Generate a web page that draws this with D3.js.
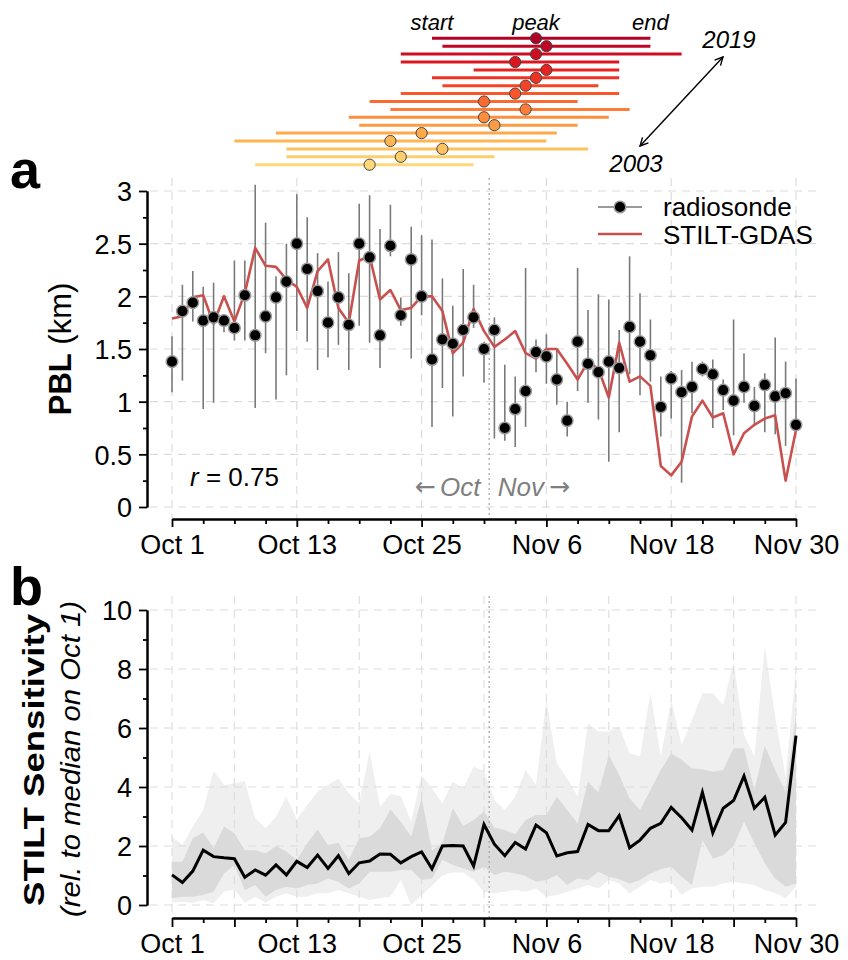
<!DOCTYPE html>
<html><head><meta charset="utf-8">
<script src="https://cdn.jsdelivr.net/npm/d3@7"></script>
<style>body{margin:0;background:#fff}svg{display:block}text{font-family:"Liberation Sans",Arial,Helvetica,sans-serif}</style>
</head><body>
<svg id="c" width="848" height="960"></svg>
<script>
// ---------- DATA ----------
const dayLabels = ["Oct 1","Oct 13","Oct 25","Nov 6","Nov 18","Nov 30"];
const dayLabelPos = [0,12,24,36,48,60];
const monthSplit = 30.5;
// panel a : radiosonde PBL (km), daily Oct 1 .. Nov 30
const radiosonde = [1.38,1.86,1.94,1.77,1.80,1.77,1.70,2.01,1.63,1.81,1.99,2.14,2.50,2.26,2.05,1.75,1.99,1.73,2.50,2.37,1.63,2.48,1.82,2.35,2.00,1.40,1.59,1.55,1.68,1.80,1.50,1.68,0.75,0.93,1.10,1.47,1.43,1.21,0.82,1.57,1.36,1.28,1.38,1.32,1.71,1.57,1.44,0.95,1.22,1.09,1.14,1.31,1.26,1.11,1.01,1.14,0.96,1.16,1.05,1.08,0.78];
const radiosondeLo = [1.09,1.20,1.76,0.93,0.99,1.66,1.58,1.58,0.94,1.46,1.02,1.25,1.67,1.57,1.30,1.42,1.54,1.30,1.72,1.56,1.32,2.38,1.72,1.41,1.82,0.76,1.13,0.86,1.24,1.70,1.18,0.65,0.63,0.57,0.76,1.28,1.17,0.97,0.67,1.10,0.99,0.83,0.43,0.71,1.26,1.06,1.19,0.67,0.84,0.23,0.89,1.24,0.75,0.92,0.68,0.99,0.78,0.71,0.69,0.58,0.78];
const radiosondeHi = [1.62,2.11,2.24,2.09,2.13,1.81,2.34,2.34,3.06,2.70,2.19,2.50,2.97,2.75,2.41,2.14,2.42,2.22,2.88,2.96,2.64,2.87,1.99,2.66,2.58,2.54,2.17,1.91,2.26,2.11,1.57,1.80,1.35,1.24,2.27,1.59,1.64,1.50,1.00,2.27,1.87,2.02,1.97,1.68,2.38,2.03,1.78,1.24,1.29,1.30,1.38,1.38,1.40,1.21,1.78,1.46,1.14,1.27,1.61,1.38,1.22];
const stiltGdas = [1.79,1.81,1.99,2.01,1.74,2.00,1.76,2.03,2.46,2.29,2.28,2.16,2.09,1.89,2.24,2.35,1.89,1.75,2.34,2.38,1.97,2.06,1.87,1.89,2.00,2.00,1.86,1.46,1.56,1.88,1.67,1.52,1.59,1.67,1.46,1.41,1.50,1.50,1.36,1.21,1.38,1.31,1.04,1.56,1.19,1.24,1.15,0.39,0.30,0.43,0.86,1.01,0.85,0.89,0.50,0.70,0.78,0.84,0.87,0.25,0.73];
// panel b : STILT sensitivity
const sensMedian = [1.02,0.76,1.15,1.86,1.64,1.60,1.57,0.94,1.19,1.01,1.36,1.02,1.48,1.27,1.69,1.24,1.67,1.07,1.43,1.49,1.73,1.72,1.43,1.64,1.80,1.23,2.00,2.02,2.00,1.32,2.73,2.06,1.67,2.12,1.90,2.71,2.45,1.66,1.77,1.81,2.73,2.52,2.52,3.03,1.94,2.20,2.60,2.77,3.31,2.96,2.54,3.82,2.45,3.28,3.54,4.37,3.28,3.65,2.37,2.80,5.74];
const sensInnerHi = [1.47,1.47,2.26,2.46,1.92,2.66,2.43,1.86,1.86,1.75,2.00,1.81,1.53,2.09,2.56,2.03,2.11,1.53,2.26,2.32,2.60,3.24,2.82,2.32,3.62,1.86,2.09,3.28,2.68,2.88,3.16,2.63,2.54,2.40,2.88,3.05,3.05,3.67,3.22,2.77,4.18,3.81,5.08,4.41,3.62,3.22,3.90,4.58,5.14,4.92,4.63,4.60,4.52,4.58,5.31,5.31,3.90,5.40,4.58,3.84,6.44];
const sensInnerLo = [0.23,0.28,0.28,0.34,0.45,1.07,1.36,0.51,0.68,0.28,0.51,0.62,0.56,0.68,0.73,0.90,0.79,0.56,0.73,1.13,1.13,1.13,1.19,1.19,0.85,0.90,1.53,1.36,1.24,1.13,1.30,1.02,1.13,1.07,0.98,0.79,0.85,1.02,0.68,0.90,0.85,1.13,0.96,0.87,0.73,0.85,1.07,1.21,1.30,0.96,0.68,2.20,1.58,1.69,2.00,2.82,2.09,1.41,0.90,0.62,0.73];
const sensOuterHi = [2.32,2.03,2.66,3.22,4.55,4.07,4.12,4.20,2.94,2.60,2.99,3.67,2.90,3.39,3.84,4.07,4.29,3.79,3.45,5.20,3.33,3.76,3.69,2.82,4.41,3.95,3.45,4.18,3.95,4.69,4.55,3.56,3.22,3.67,4.58,4.07,6.95,4.80,4.29,3.69,6.16,5.88,5.88,6.05,5.14,5.03,7.18,5.03,6.95,5.42,6.27,7.18,7.18,6.78,8.25,5.76,5.03,8.76,6.38,4.35,7.97];
const sensOuterLo = [0.08,0.11,0.08,0.17,0.06,0.45,0.53,0.08,0.28,0.08,0.28,0.40,0.28,0.28,0.40,0.40,0.51,0.40,0.28,0.17,0.23,0.28,0.85,0.00,0.34,0.65,1.00,1.10,1.10,0.85,0.45,0.40,0.45,0.51,0.45,0.56,0.28,0.34,0.45,0.56,0.68,0.56,0.85,0.73,0.40,0.62,0.85,0.73,0.79,0.34,0.56,0.62,0.62,0.73,0.79,0.73,0.68,0.51,0.40,0.23,0.62];
// inset : season start / peak / end (day index from Oct 1)
const seasonYears = [2003,2004,2005,2006,2007,2008,2009,2010,2011,2012,2013,2014,2015,2016,2017,2018,2019];
const seasonStart = [8,11,11,6,10,18,17,21,19,22,26,25,29,22,22,26,25];
const seasonPeak  = [19,22,26,21,24,31,30,34,30,33,34,35,36,33,35,36,35];
const seasonEnd   = [29,31,40,36,37,39,42,44,39,43,41,43,43,43,49,46,46];
const pblTicks = [0,0.5,1,1.5,2,2.5,3];
const sensTicks = [0,2,4,6,8,10];

// ---------- DRAW ----------
const svg = d3.select("#c");
const days = radiosonde.map((_, i) => i);
const x = d3.scaleLinear().domain([0, 60]).range([172, 796]);
const yA = d3.scaleLinear().domain([0, 3]).range([507, 191]);
const yB = d3.scaleLinear().domain([0, 10]).range([905, 610]);
const grid = "#dcdcdc";
const FS = 27;

// ---- inset ----
const yr = d3.scalePoint().domain(seasonYears.slice().reverse()).range([38.3, 164.7]);
const colT = y => d3.interpolateYlOrRd(0.24 + (y - 2003) / 16 * 0.66);
const inset = svg.append("g");
seasonYears.forEach((yv, i) => {
  inset.append("line").attr("x1", x(seasonStart[i])).attr("x2", x(seasonEnd[i]))
    .attr("y1", yr(yv)).attr("y2", yr(yv)).attr("stroke", colT(yv)).attr("stroke-width", 3);
});
seasonYears.forEach((yv, i) => {
  inset.append("circle").attr("cx", x(seasonPeak[i])).attr("cy", yr(yv)).attr("r", 5.6)
    .attr("fill", colT(yv)).attr("stroke", "#444").attr("stroke-width", 1);
});
const italic = (g, t, xx, yy, fs, anchor) => g.append("text").text(t).attr("x", xx).attr("y", yy)
  .attr("font-size", fs).attr("font-style", "italic").attr("text-anchor", anchor || "middle");
italic(inset, "start", x(seasonStart[16]), 30, 22);
italic(inset, "peak", x(seasonPeak[16]), 30, 22);
italic(inset, "end", x(seasonEnd[16]), 30, 22);
italic(inset, "2019", 729, 48, 24);
italic(inset, "2003", 636, 172, 24);
const defs = svg.append("defs");
defs.append("marker").attr("id", "ah").attr("viewBox", "0 0 10 10").attr("refX", 9).attr("refY", 5)
  .attr("markerWidth", 10).attr("markerHeight", 10).attr("orient", "auto-start-reverse")
  .attr("markerUnits", "userSpaceOnUse")
  .append("path").attr("d", "M1,1 L9,5 L1,9").attr("fill", "none").attr("stroke", "#000").attr("stroke-width", 1.4);
inset.append("line").attr("x1", 640).attr("y1", 146).attr("x2", 723).attr("y2", 57)
  .attr("stroke", "#000").attr("stroke-width", 1.4)
  .attr("marker-start", "url(#ah)").attr("marker-end", "url(#ah)");

// ---- panel a ----
const A = svg.append("g");
pblTicks.forEach(t => A.append("line").attr("x1", 150).attr("x2", 820).attr("y1", yA(t)).attr("y2", yA(t))
  .attr("stroke", grid).attr("stroke-dasharray", "8,6").attr("stroke-width", 1.2));
dayLabelPos.forEach(t => A.append("line").attr("x1", x(t)).attr("x2", x(t)).attr("y1", 178).attr("y2", 519)
  .attr("stroke", grid).attr("stroke-dasharray", "8,6").attr("stroke-width", 1.2));
A.append("line").attr("x1", x(monthSplit)).attr("x2", x(monthSplit)).attr("y1", 178).attr("y2", 519)
  .attr("stroke", "#aaa").attr("stroke-dasharray", "2,3").attr("stroke-width", 1.3);
// error bars
A.selectAll("line.eb").data(days).join("line").attr("class", "eb")
  .attr("x1", d => x(d)).attr("x2", d => x(d)).attr("y1", d => yA(radiosondeLo[d])).attr("y2", d => yA(radiosondeHi[d]))
  .attr("stroke", "#7a7a7a").attr("stroke-width", 1.6);
A.append("path").datum(days).attr("fill", "none").attr("stroke", "#c8504f").attr("stroke-width", 2.6)
  .attr("stroke-linejoin", "round")
  .attr("d", d3.line().x(d => x(d)).y(d => yA(stiltGdas[d])));
A.selectAll("circle.pt").data(days).join("circle").attr("class", "pt")
  .attr("cx", d => x(d)).attr("cy", d => yA(radiosonde[d])).attr("r", 5.8)
  .attr("fill", "#000").attr("stroke", "#9a9a9a").attr("stroke-width", 1.5);
// axes
A.append("g").attr("class", "yax").attr("transform", "translate(147,0)")
  .call(d3.axisLeft(yA).tickValues(pblTicks).tickSize(8).tickSizeOuter(0).tickFormat(d3.format("~g")));
A.append("g").attr("transform", "translate(147,0)")
  .call(d3.axisLeft(yA).tickValues(d3.range(0.25, 3, 0.5)).tickSize(4).tickSizeOuter(0).tickFormat(""));
A.append("g").attr("class", "xax").attr("transform", "translate(0,519)")
  .call(d3.axisBottom(x).tickValues(dayLabelPos).tickSize(8).tickSizeOuter(0).tickFormat((d, i) => dayLabels[i]));
A.append("g").attr("transform", "translate(0,519)")
  .call(d3.axisBottom(x).tickValues(d3.range(3, 60, 3).filter(v => v % 12)).tickSize(5).tickSizeOuter(0).tickFormat(""));
// legend
A.append("line").attr("x1", 598).attr("x2", 642).attr("y1", 207).attr("y2", 207).attr("stroke", "#7a7a7a").attr("stroke-width", 1.6);
A.append("circle").attr("cx", 620).attr("cy", 207).attr("r", 5.8).attr("fill", "#000").attr("stroke", "#9a9a9a").attr("stroke-width", 1.5);
A.append("text").text("radiosonde").attr("x", 663).attr("y", 216).attr("font-size", 26);
A.append("line").attr("x1", 598).attr("x2", 642).attr("y1", 234).attr("y2", 234).attr("stroke", "#c8504f").attr("stroke-width", 2.6);
A.append("text").text("STILT-GDAS").attr("x", 663).attr("y", 244).attr("font-size", 26);
const rt = A.append("text").attr("x", 190).attr("y", 486).attr("font-size", 26);
rt.append("tspan").text("r").attr("font-style", "italic");
rt.append("tspan").text(" = 0.75");
const gray = "#7f7f7f";
A.append("text").text("\u2190").attr("x", 436).attr("y", 495).attr("font-size", 25)
  .style("font-family", "'DejaVu Sans', sans-serif").attr("fill", gray).attr("text-anchor", "end");
A.append("text").text("Oct").attr("x", 440).attr("y", 496).attr("font-size", 26)
  .attr("font-style", "italic").attr("fill", gray);
A.append("text").text("Nov").attr("x", 544).attr("y", 496).attr("font-size", 26)
  .attr("font-style", "italic").attr("fill", gray).attr("text-anchor", "end");
A.append("text").text("\u2192").attr("x", 549).attr("y", 495).attr("font-size", 25)
  .style("font-family", "'DejaVu Sans', sans-serif").attr("fill", gray);
const yl = A.append("text").attr("transform", "translate(71,349) rotate(-90)").attr("text-anchor", "middle").attr("font-size", 31);
yl.append("tspan").text("PBL").attr("font-weight", "bold");
yl.append("tspan").text(" (km)");
A.append("text").text("a").attr("x", 10).attr("y", 188).attr("font-size", 54).attr("font-weight", "bold");

// ---- panel b ----
const B = svg.append("g");
B.append("path").datum(days).attr("fill", "#efefef")
  .attr("d", d3.area().x(d => x(d)).y0(d => yB(sensOuterLo[d])).y1(d => yB(sensOuterHi[d])));
B.append("path").datum(days).attr("fill", "#dadada")
  .attr("d", d3.area().x(d => x(d)).y0(d => yB(sensInnerLo[d])).y1(d => yB(sensInnerHi[d])));
sensTicks.forEach(t => B.append("line").attr("x1", 150).attr("x2", 820).attr("y1", yB(t)).attr("y2", yB(t))
  .attr("stroke", grid).attr("stroke-dasharray", "8,6").attr("stroke-width", 1.2).attr("opacity", 0.9));
d3.range(0, 61, 6).forEach(t => B.append("line").attr("x1", x(t)).attr("x2", x(t)).attr("y1", 596).attr("y2", 918)
  .attr("stroke", grid).attr("stroke-dasharray", "8,6").attr("stroke-width", 1.2).attr("opacity", 0.9));
B.append("line").attr("x1", x(monthSplit)).attr("x2", x(monthSplit)).attr("y1", 596).attr("y2", 918)
  .attr("stroke", "#aaa").attr("stroke-dasharray", "2,3").attr("stroke-width", 1.3);
B.append("path").datum(days).attr("fill", "none").attr("stroke", "#000").attr("stroke-width", 3)
  .attr("stroke-linejoin", "miter")
  .attr("d", d3.line().x(d => x(d)).y(d => yB(sensMedian[d])));
B.append("g").attr("class", "yax").attr("transform", "translate(147,0)")
  .call(d3.axisLeft(yB).tickValues(sensTicks).tickSize(8).tickSizeOuter(0));
B.append("g").attr("transform", "translate(147,0)")
  .call(d3.axisLeft(yB).tickValues([1,3,5,7,9]).tickSize(4).tickSizeOuter(0).tickFormat(""));
B.append("g").attr("class", "xax").attr("transform", "translate(0,918)")
  .call(d3.axisBottom(x).tickValues(d3.range(0, 61, 6)).tickSize(9).tickSizeOuter(0).tickFormat(d => {
    const i = dayLabelPos.indexOf(d); return i >= 0 ? dayLabels[i] : ""; }));
B.append("g").attr("transform", "translate(0,918)")
  .call(d3.axisBottom(x).tickValues(d3.range(3, 60, 6)).tickSize(5).tickSizeOuter(0).tickFormat(""));
B.append("text").attr("transform", "translate(44,760) rotate(-90)").attr("text-anchor", "middle").attr("font-size", 30)
  .attr("font-weight", "bold").attr("textLength", 292).attr("lengthAdjust", "spacingAndGlyphs").text("STILT Sensitivity");
B.append("text").attr("transform", "translate(80,759) rotate(-90)").attr("text-anchor", "middle").attr("font-size", 27)
  .attr("font-style", "italic").attr("textLength", 316).attr("lengthAdjust", "spacingAndGlyphs").text("(rel. to median on Oct 1)");
B.append("text").text("b").attr("x", 10).attr("y", 605).attr("font-size", 54).attr("font-weight", "bold");

// axis styling
svg.selectAll(".domain").attr("stroke", "#000").attr("stroke-width", 2);
svg.selectAll(".tick line").attr("stroke", "#000").attr("stroke-width", 1.8);
svg.selectAll(".tick text").attr("font-size", FS).attr("fill", "#000");
svg.selectAll(".yax .tick text").attr("x", -15).attr("dy", "0.36em");
svg.selectAll(".xax .tick text").attr("y", 16);
</script>
</body></html>
